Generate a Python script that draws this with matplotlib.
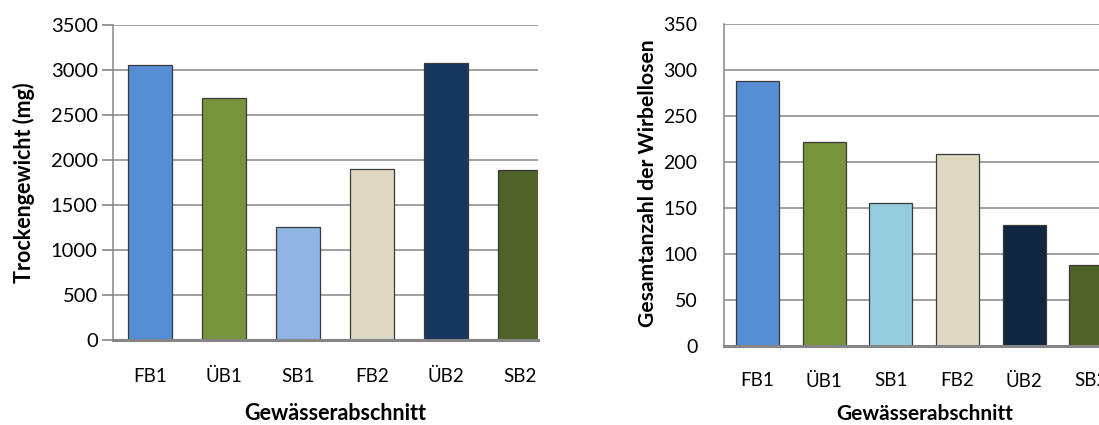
import matplotlib
matplotlib.use("Agg")
import matplotlib.pyplot as plt

plt.rcParams["font.family"] = ["Lato", "DejaVu Sans"]

# Gewässerabschnitte und Messwerte
abschnitte = ["FB1", "ÜB1", "SB1", "FB2", "ÜB2", "SB2"]
trockengewicht = [3060, 2685, 1260, 1905, 3075, 1890]
wirbellose = [288, 222, 155, 209, 132, 88]

farben_links = ["#558ED5", "#77933C", "#8EB4E3", "#DDD9C3", "#17375E", "#4F6228"]
farben_rechts = ["#558ED5", "#77933C", "#93CDDD", "#DDD9C3", "#10253F", "#4F6228"]

GRID = "#868686"

fig = plt.figure(figsize=(10.99, 4.25), dpi=100)

ax1 = fig.add_axes([0.1028, 0.2, 0.3867, 0.7412])
ax2 = fig.add_axes([0.6588, 0.1859, 0.3412, 0.7576])

x = range(len(abschnitte))

# -- links: Trockengewicht --
ax1.bar(x, trockengewicht, width=0.595, color=farben_links,
        edgecolor="#3a3a3a", linewidth=0.9, zorder=3)
ax1.set_ylim(0, 3500)
ax1.set_yticks(range(0, 3501, 500))
ax1.set_xlim(-0.5, 5.243)
ax1.set_ylabel("Trockengewicht (mg)", fontsize=15.5, fontweight="bold")
ax1.yaxis.set_label_coords(-0.184, 0.5)
ax1.set_xlabel("Gewässerabschnitt", fontsize=15.5, fontweight="bold", va="center")
ax1.xaxis.set_label_coords(0.522, -0.234)
ax1.tick_params(axis="y", length=8, width=1.2, color=GRID, pad=3, labelsize=14.5)
ax1.tick_params(axis="x", pad=20)

# -- rechts: Gesamtanzahl der Wirbellosen --
ax2.bar(x, wirbellose, width=0.645, color=farben_rechts,
        edgecolor="#3a3a3a", linewidth=0.9, zorder=3)
ax2.set_ylim(0, 350)
ax2.set_yticks(range(0, 351, 50))
ax2.set_xlim(-0.5, 5.122)
ax2.set_ylabel("Gesamtanzahl der Wirbellosen", fontsize=15.2, fontweight="bold")
ax2.yaxis.set_label_coords(-0.176, 0.506)
ax2.set_xlabel("Gewässerabschnitt", fontsize=15, fontweight="bold", va="center")
ax2.xaxis.set_label_coords(0.536, -0.212)
ax2.tick_params(axis="y", length=0, pad=19, labelsize=14)
ax2.tick_params(axis="x", pad=19)

for ax in (ax1, ax2):
    ax.set_xticks(list(x))
    ax.set_xticklabels(abschnitte)
    ax.tick_params(axis="x", length=0, labelsize=13.5)
    ax.grid(axis="y", color=GRID, linewidth=1.1, zorder=0)
    ax.set_axisbelow(True)
    ax.spines[["top", "right"]].set_visible(False)
    ax.spines["left"].set_color(GRID)
    ax.spines["left"].set_linewidth(1.1)
    ax.spines["bottom"].set_color(GRID)
    ax.spines["bottom"].set_linewidth(2.2)
    ax.spines["bottom"].set_zorder(4)

fig.savefig("out.png", dpi=100)
